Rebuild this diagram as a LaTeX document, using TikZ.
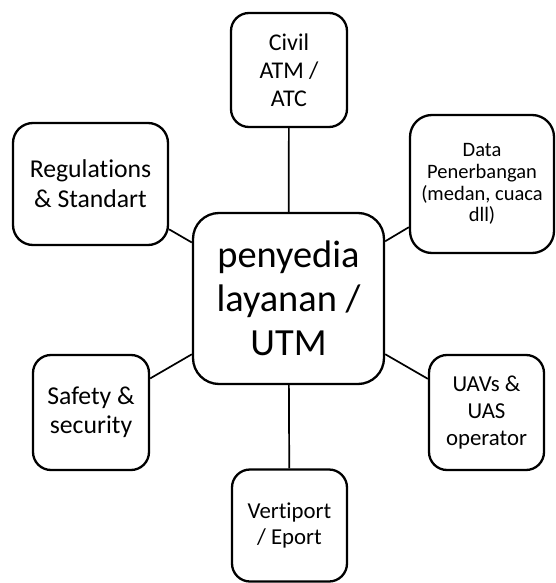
\documentclass[tikz,border=0pt]{standalone}
\usepackage{fontspec}
\setmainfont{Carlito}[Ligatures=CommonOff]
\begin{document}
\begin{tikzpicture}[x=1pt,y=-1pt,
  box/.style={draw=black, line width=2.3pt, fill=white, rectangle,
    inner sep=0pt, align=center},
  link/.style={draw=black, line width=1.7pt}]
\useasboundingbox (0,0) rectangle (555,583);

% hub
\node[box, minimum width=191pt, minimum height=171pt, rounded corners=26pt,
  font=\fontsize{38.4}{44}\selectfont] (hub) at (288.5,298.5)
  {penyedia\\layanan /\\UTM};

% satellites
\node[box, minimum width=116pt, minimum height=114pt, rounded corners=18pt,
  font=\fontsize{24}{28}\selectfont] (atc) at (289,70)
  {Civil\\ATM /\\ATC};
\node[box, minimum width=155pt, minimum height=122pt, rounded corners=20pt,
  font=\fontsize{25.7}{30}\selectfont] (reg) at (90.5,184)
  {Regulations\\\& Standart};
\node[box, minimum width=144pt, minimum height=138pt, rounded corners=22pt,
  font=\fontsize{20.5}{21.7}\selectfont] (data) at (482,184)
  {Data\\Penerbangan\\(medan, cuaca\\dll)};
\node[box, minimum width=116pt, minimum height=115pt, rounded corners=18pt,
  font=\fontsize{25.7}{29}\selectfont] (safe) at (91,412.5)
  {Safety \&\\security};
\node[box, minimum width=115pt, minimum height=115pt, rounded corners=18pt,
  font=\fontsize{22.8}{26.7}\selectfont] (uav) at (486.5,412.5)
  {UAVs \&\\UAS\\operator};
\node[box, minimum width=115pt, minimum height=112pt, rounded corners=18pt,
  font=\fontsize{22.8}{26.7}\selectfont] (port) at (289.5,525.5)
  {Vertiport\\/ Eport};

% spokes
\draw[link] (hub) -- (atc);
\draw[link] (hub) -- (reg);
\draw[link] (hub) -- (data);
\draw[link] (hub) -- (safe);
\draw[link] (hub) -- (uav);
\draw[link] (hub) -- (port);
\end{tikzpicture}
\end{document}
